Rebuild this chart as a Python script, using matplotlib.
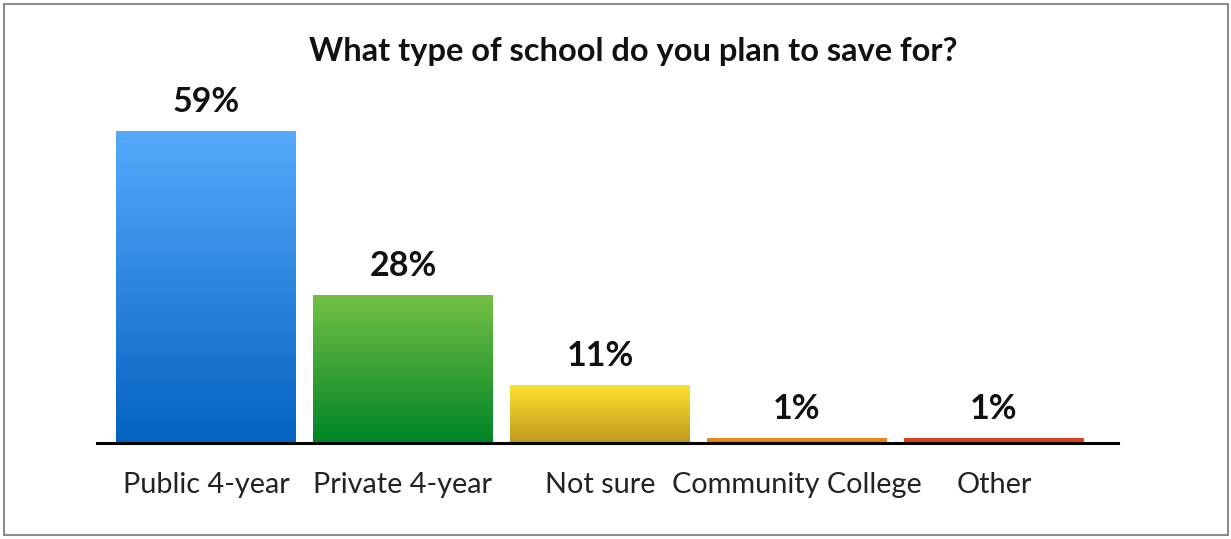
import matplotlib
matplotlib.use("Agg")
import matplotlib.pyplot as plt
import numpy as np
from matplotlib.colors import LinearSegmentedColormap
from matplotlib.patches import Rectangle

categories = ["Public 4-year", "Private 4-year", "Not sure", "Community College", "Other"]
values = [59, 28, 11, 1, 1]
value_labels = ["59%", "28%", "11%", "1%", "1%"]
title = "What type of school do you plan to save for?"
top_colors = ["#55AAFC", "#74C045", "#FDE330", "#EA8A22", "#E2461E"]
bottom_colors = ["#0462C0", "#008426", "#BF991E", "#E38019", "#DC3A1A"]

plt.rcParams['font.family'] = ['Lato', 'DejaVu Sans']

W, H = 1231, 539
fig = plt.figure(figsize=(W / 100, H / 100), dpi=100)
ax = fig.add_axes([97 / W, (H - 443) / H, (1118 - 97) / W, (443 - 90) / H])

x = np.arange(len(categories))
bars = ax.bar(x, values, width=0.91, color="none", edgecolor="none")

for b, c_top, c_bot in zip(bars, top_colors, bottom_colors):
    cmap = LinearSegmentedColormap.from_list("g", [c_bot, c_top])
    grad = np.linspace(0, 1, 256).reshape(-1, 1)
    x0, y0 = b.get_x(), b.get_y()
    w, h = b.get_width(), b.get_height()
    im = ax.imshow(grad, cmap=cmap, origin="lower", aspect="auto",
                   extent=[x0, x0 + w, y0, y0 + h], zorder=2)
    im.set_clip_path(b)

ax.set_xlim(-0.553, 4.63)
ax.set_ylim(0, 59 * (443 - 90) / 312)

for xi, v, lab in zip(x, values, value_labels):
    ax.annotate(lab, (xi, v), xytext=(0, 9), textcoords="offset points",
                ha="center", va="bottom", fontsize=24.5, fontweight="bold", color="#111111")

for s in ["top", "right", "left"]:
    ax.spines[s].set_visible(False)
ax.spines["bottom"].set_linewidth(2.2)
ax.spines["bottom"].set_color("#000000")
ax.set_yticks([])
ax.set_xticks(x)
ax.set_xticklabels(categories, fontsize=20.8, color="#222222")
ax.tick_params(axis="x", length=0, pad=21)

fig.text(633 / W, 1 - 52 / H, title, ha="center", va="center",
         fontsize=23.5, fontweight="bold", color="#111111")

fig.patches.append(Rectangle((4 / W, 4 / H), (1228 - 4) / W, (535 - 4) / H,
                             transform=fig.transFigure, fill=False,
                             edgecolor="#8c8c8c", linewidth=1.5))

fig.savefig("out.png", dpi=100)
